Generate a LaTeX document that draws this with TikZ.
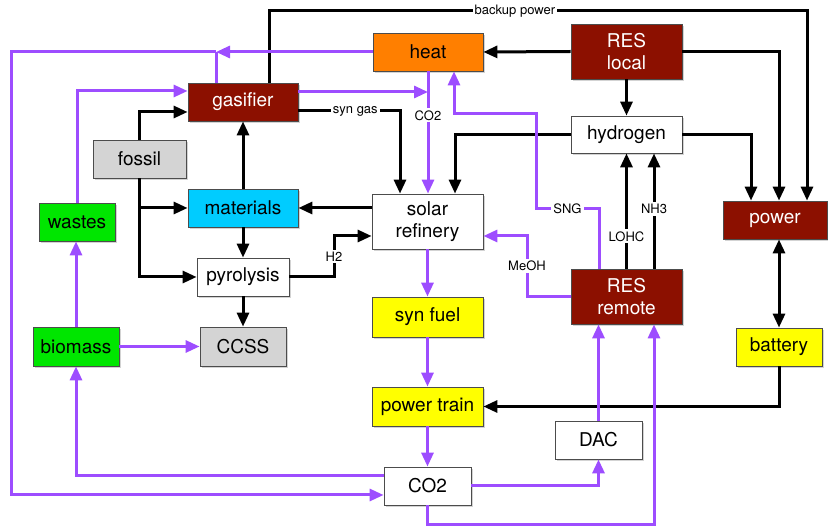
\documentclass[tikz,border=0pt]{standalone}
\usepackage{fontspec}
\setmainfont{TeX Gyre Heros}
\usetikzlibrary{arrows.meta,shadows}
\definecolor{resred}{HTML}{8C1000}
\definecolor{heatorange}{HTML}{FF7F00}
\definecolor{matcyan}{HTML}{00CCFF}
\definecolor{biogreen}{HTML}{00E600}
\definecolor{fuelyellow}{HTML}{FFFF00}
\definecolor{fossilgrey}{HTML}{D4D4D4}
\definecolor{flowpurple}{HTML}{9D4DFF}
\tikzset{
  box/.style={draw=black!70, line width=0.8pt, fill=white, minimum width=110pt, minimum height=38pt,
    inner sep=0pt, align=center, font=\fontsize{19}{22}\selectfont,
    drop shadow={shadow xshift=1.5pt, shadow yshift=-2pt, opacity=0.35}},
  redbox/.style={box, fill=resred, text=white},
  lbl/.style={fill=white, inner sep=2pt, font=\fontsize{13}{15}\selectfont},
  blk/.style={draw=black, line width=3pt, -{Triangle[length=14pt,width=12pt]}},
  pur/.style={draw=flowpurple, line width=3pt, -{Triangle[length=14pt,width=12pt]}},
}
\begin{document}
\begin{tikzpicture}[x=1pt, y=-1pt]
\useasboundingbox (0,0) rectangle (828,526);
% nodes
\node[box, fill=heatorange] (heat) at (428,52) {heat};
\node[redbox, minimum width=111pt, minimum height=55pt] (RESlocal) at (626.5,51.5) {RES\\local};
\node[redbox] (gasifier) at (243,102) {gasifier};
\node[box, fill=fossilgrey, minimum width=93pt] (fossil) at (139.5,159) {fossil};
\node[box, fill=matcyan] (materials) at (243,208) {materials};
\node[box, fill=biogreen, minimum width=76pt] (wastes) at (77,222) {wastes};
\node[box, minimum width=111pt, minimum height=55pt] (solar) at (427.5,221.5) {solar\\refinery};
\node[box, minimum width=111pt, minimum height=37pt] (hydrogen) at (626.5,134.5) {hydrogen};
\node[redbox, minimum width=104pt] (power) at (775,220) {power};
\node[box, minimum width=92pt] (pyrolysis) at (243,277) {pyrolysis};
\node[box, fill=biogreen, minimum width=86pt, minimum height=39pt] (biomass) at (76,346.5) {biomass};
\node[box, fill=fossilgrey, minimum width=86pt, minimum height=39pt] (CCSS) at (243,346.5) {CCSS};
\node[box, fill=fuelyellow, minimum width=111pt, minimum height=40pt] (synfuel) at (427.5,317) {syn fuel};
\node[box, fill=fuelyellow, minimum width=111pt, minimum height=39pt] (powertrain) at (427.5,406.5) {power train};
\node[box, minimum width=87pt] (co2) at (427.5,486) {CO2};
\node[box, minimum width=87pt] (DAC) at (598.5,440) {DAC};
\node[redbox, minimum width=111pt, minimum height=55pt] (RESremote) at (626.5,296.5) {RES\\remote};
\node[box, fill=fuelyellow, minimum width=86pt] (battery) at (779,347) {battery};
% black connectors
\draw[blk] ([xshift=26pt]gasifier.north) -- (269,11) -- node[lbl, pos=0.457] {backup power} (807,11) -- ([xshift=32pt]power.north);
\draw[blk] (RESlocal.west) -- (heat.east);
\draw[blk] (RESlocal.east) -| ([xshift=4pt]power.north);
\draw[blk] (RESlocal.south) -- (hydrogen.north);
\draw[blk] (hydrogen.west) -| ([xshift=27.5pt]solar.north);
\draw[blk] (hydrogen.east) -| ([xshift=-24pt]power.north);
\draw[blk] (RESremote.north) -- node[lbl, pos=0.28] {LOHC} (hydrogen.south);
\draw[blk] ([xshift=27.5pt]RESremote.north) -- node[lbl, pos=0.52] {NH3} ([xshift=27.5pt]hydrogen.south);
\draw[blk] ([yshift=-9pt]gasifier.east) -| node[lbl, pos=0.28] {syn gas} ([xshift=-27.5pt]solar.north);
\draw[blk] (fossil.north) |- ([yshift=-10pt]gasifier.west);
\draw[blk] (fossil.south) |- (materials.west);
\draw[blk] (fossil.south) |- (pyrolysis.west);
\draw[blk] (materials.north) -- (gasifier.south);
\draw[blk] (materials.south) -- (pyrolysis.north);
\draw[blk] (solar.west |- materials.east) -- (materials.east);
\draw[blk] (pyrolysis.east) -- (334,277) -- node[lbl] {H2} (334,236) -- ([yshift=-14.5pt]solar.west);
\draw[blk] (pyrolysis.south) -- (CCSS.north);
\draw[blk, {Triangle[length=14pt,width=12pt]}-{Triangle[length=14pt,width=12pt]}] ([xshift=4pt]power.south) -- (battery.north);
\draw[blk] (battery.south) |- (powertrain.east);
% purple connectors
\coordinate (jn) at (216,52);
\draw[pur] (heat.west) -- (jn);
\draw[pur, -] ([xshift=-27pt]gasifier.north) -- (jn);
\draw[pur] (jn) -- (11,52) |- ([yshift=-9pt]co2.west);
\draw[pur] (wastes.north) |- ([yshift=11pt]gasifier.west);
\draw[pur] ([yshift=10pt]gasifier.east) -- ([yshift=10pt]gasifier.east -| heat.south);
\draw[pur] (heat.south) -- node[lbl, pos=0.36] {CO2} (heat.south |- solar.north);
\draw[pur] ([xshift=-27.5pt]RESremote.north) -- (599,209) -- node[lbl] {SNG} (536,209) -- (536,114) -- (454,114) -- ([xshift=26pt]heat.south);
\draw[pur] (RESremote.west) -- (527,296.5) -- node[lbl] {MeOH} (527,236) -- ([yshift=-14.5pt]solar.east);
\draw[pur] (solar.south) -- (synfuel.north);
\draw[pur] (synfuel.south) -- (powertrain.north);
\draw[pur] (powertrain.south) -- (co2.north);
\draw[pur] (biomass.north) -- (biomass.north |- wastes.south);
\draw[pur] (biomass.east) -- (CCSS.west);
\draw[pur] ([yshift=10pt]co2.west) -| (biomass.south);
\draw[pur] (co2.east) -| (DAC.south);
\draw[pur] (DAC.north) -- (DAC.north |- RESremote.south);
\draw[pur] (co2.south) -- ++(0,19) -| ([xshift=27.5pt]RESremote.south);
\end{tikzpicture}
\end{document}
